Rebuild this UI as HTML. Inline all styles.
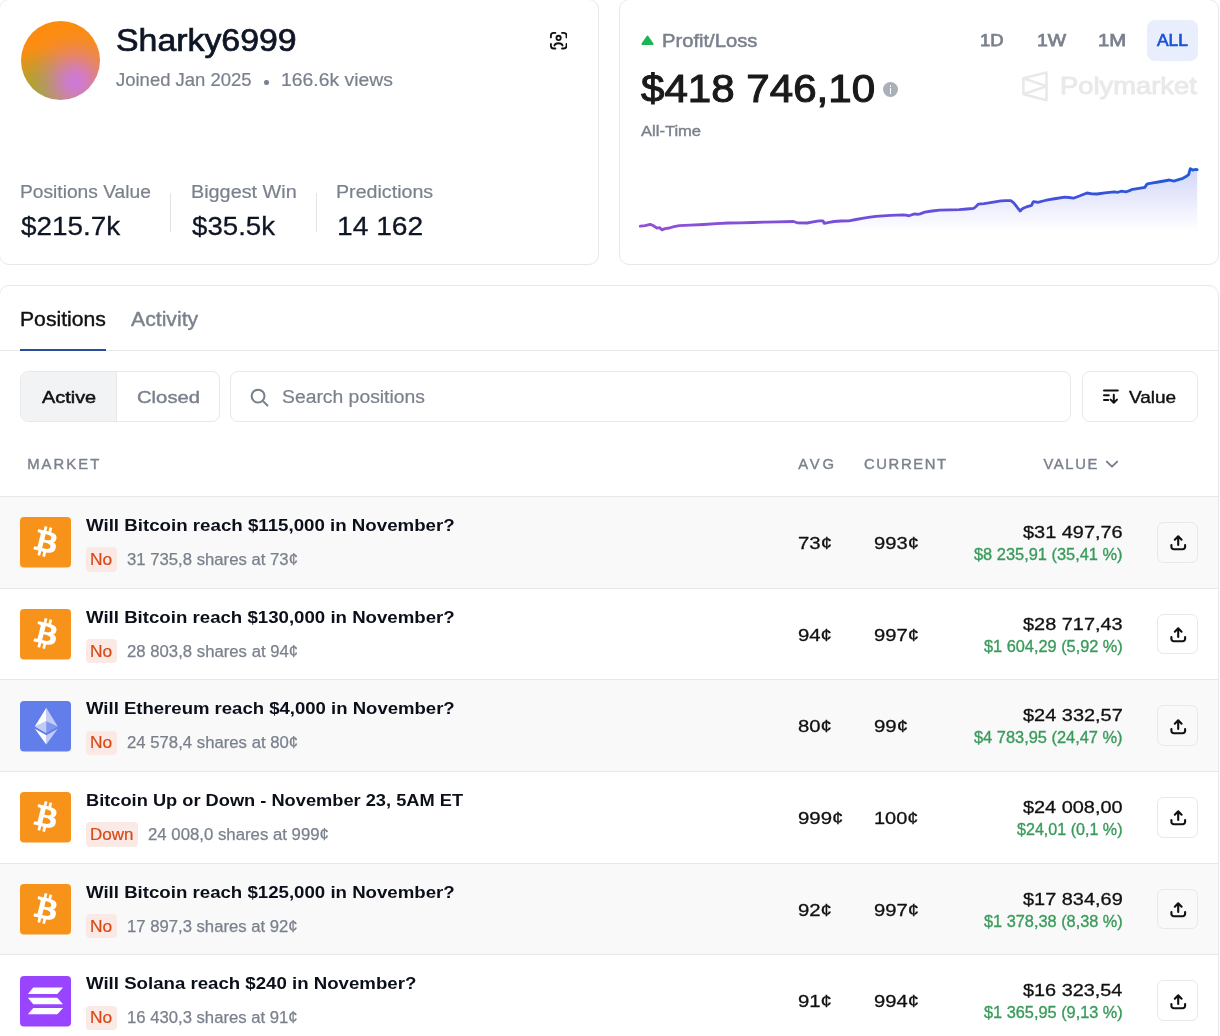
<!DOCTYPE html>
<html lang="en"><head><meta charset="utf-8"><title>Sharky6999 - Polymarket</title>
<style>
html,body{margin:0;padding:0;background:#fff}
body{width:1220px;height:1036px;position:relative;overflow:hidden;font-family:"Liberation Sans", sans-serif}
.a{position:absolute}
.t{white-space:pre;line-height:1;display:block}
.card{border:1px solid #e8e8e8;border-radius:10px;background:#fff;box-sizing:border-box}
.row{left:0;width:1218px;border-top:1px solid #e8e8e8;box-sizing:border-box}
.badge{height:24.4px;border-radius:4px;background:#fbe9e5}
.sbtn{width:40.4px;height:40.7px;box-sizing:border-box;border:1px solid #e8e8e8;border-radius:6.5px}
</style></head><body>
<div class="a card" style="left:-1px;top:-1px;width:600px;height:266px"></div>
<div class="a card" style="left:619px;top:-1px;width:600px;height:266px"></div>
<div class="a card" style="left:-1px;top:285px;width:1220px;height:800px"></div>
<div class="a" style="left:21px;top:20.8px;width:79px;height:79px;border-radius:50%;background:radial-gradient(circle at 69% 77%,#cd78de 0%,rgba(205,120,222,.85) 12%,rgba(207,122,200,.38) 36%,rgba(214,126,160,.12) 52%,rgba(214,126,160,0) 66%),radial-gradient(circle at 27% 92%,#9fab28 0%,rgba(160,170,40,.75) 20%,rgba(170,160,44,0) 50%),linear-gradient(180deg,#fc8c0e 0%,#fa8d14 50%,#f08d2c 100%)"></div>
<svg class="a" style="left:549.5px;top:32.3px" width="17.4" height="17.4" viewBox="0 0 17.4 17.4" fill="none" stroke="#111" stroke-width="1.8" stroke-linecap="round" stroke-linejoin="round"><path d="M.9 5.4V3.6A2.7 2.7 0 0 1 3.6.9h1.8M12 .9h1.8a2.7 2.7 0 0 1 2.7 2.7v1.8M16.5 12v1.8a2.7 2.7 0 0 1-2.7 2.7H12M5.4 16.5H3.6a2.7 2.7 0 0 1-2.7-2.7V12"/><circle cx="8.6" cy="5.9" r="2.15"/><path d="M4.4 13.6C5.2 10.5 11.8 10.5 12.6 13.6"/></svg>
<div class="a" style="left:264.4px;top:80.2px;width:4.6px;height:4.6px;border-radius:50%;background:#77808d"></div>
<div class="a" style="left:170px;top:192.5px;width:1px;height:39px;background:#e3e3e3"></div>
<div class="a" style="left:315.5px;top:192.5px;width:1px;height:39px;background:#e3e3e3"></div>
<svg class="a" style="left:641.2px;top:35.2px" width="13" height="11" viewBox="0 0 13 11"><path d="M6.5 1.6 11.6 9H1.4z" fill="#1cb555" stroke="#1cb555" stroke-width="2" stroke-linejoin="round"/></svg>
<div class="a" style="left:883px;top:82px;width:15px;height:15px;border-radius:50%;background:#a9b0b8"></div>
<div class="a" style="left:889.7px;top:85px;width:1.8px;height:1.8px;background:#fff;border-radius:50%"></div>
<div class="a" style="left:889.7px;top:88.2px;width:1.8px;height:5.5px;background:#fff"></div>
<div class="a" style="left:1147px;top:20px;width:51px;height:41px;border-radius:8px;background:#e8eefc"></div>
<svg class="a" style="left:1019px;top:69px" width="32" height="35" viewBox="0 0 32 35" fill="none" stroke="#e9e9e9" stroke-width="2.6" stroke-linejoin="round"><path d="M4.4 9.3 27.5 3.4V31.2L4.4 25.3zM4.4 9.3l23.1 8L4.4 25.3"/></svg>
<svg class="a" style="left:0;top:0" width="1220" height="270" viewBox="0 0 1220 270"><defs>
<linearGradient id="lg" x1="640" y1="0" x2="1197" y2="0" gradientUnits="userSpaceOnUse"><stop offset="0" stop-color="#9150d6"/><stop offset=".5" stop-color="#6a4fd8"/><stop offset=".8" stop-color="#3a52d8"/><stop offset="1" stop-color="#1f5bd8"/></linearGradient>
<linearGradient id="ag" x1="0" y1="168" x2="0" y2="231" gradientUnits="userSpaceOnUse"><stop offset="0" stop-color="#4f5fe6" stop-opacity=".26"/><stop offset="1" stop-color="#4f5fe6" stop-opacity="0"/></linearGradient></defs>
<path d="M640.3 226.2 L645.0 225.6 L650.2 224.3 L653.0 225.5 L657.0 228.2 L659.5 227.6 L662.0 229.9 L665.0 228.6 L669.3 228.0 L674.0 226.6 L679.2 225.7 L690.0 225.1 L703.8 224.5 L716.0 223.7 L728.4 223.0 L740.0 222.8 L753.0 222.5 L765.0 222.1 L777.5 221.8 L793.5 221.5 L797.2 222.8 L807.0 223.0 L813.0 221.9 L819.3 220.8 L823.0 220.8 L824.2 223.3 L829.0 222.3 L834.0 221.5 L841.0 221.0 L848.8 220.8 L856.0 219.5 L863.6 218.1 L870.0 217.2 L875.9 216.4 L883.0 215.8 L890.6 215.4 L897.0 215.1 L902.9 214.9 L906.0 215.2 L909.0 215.8 L912.0 214.7 L915.2 213.9 L917.4 214.4 L920.1 213.8 L924.8 212.2 L932.0 211.0 L939.5 210.2 L950.0 209.9 L959.2 209.7 L967.0 209.0 L973.9 208.3 L976.0 206.5 L978.4 204.1 L984.0 203.6 L988.7 202.9 L995.0 201.8 L1001.0 200.9 L1006.0 200.6 L1010.8 200.6 L1013.5 202.6 L1015.7 205.3 L1018.0 208.3 L1020.2 211.0 L1022.0 209.0 L1024.3 207.8 L1028.0 206.4 L1031.7 205.3 L1032.6 203.0 L1033.4 201.6 L1035.5 201.8 L1037.9 202.4 L1043.0 201.0 L1047.7 199.9 L1056.0 198.5 L1064.9 197.2 L1069.0 197.5 L1073.5 198.2 L1080.0 195.8 L1087.0 193.0 L1092.0 193.8 L1096.9 194.0 L1105.0 192.8 L1114.1 191.8 L1118.0 192.3 L1121.0 191.2 L1126.4 191.8 L1129.5 190.6 L1132.5 189.3 L1139.0 188.3 L1144.8 187.4 L1146.0 185.5 L1147.3 183.9 L1153.0 182.9 L1158.3 182.0 L1164.0 181.0 L1169.4 180.0 L1172.0 180.7 L1174.3 181.0 L1178.5 179.6 L1182.9 178.3 L1186.0 176.6 L1188.6 174.6 L1189.6 171.0 L1190.3 168.7 L1191.6 169.3 L1192.8 170.2 L1195.0 169.5 L1197.2 169.7 L1197.2 232 L640.3 232 Z" fill="url(#ag)"/><path d="M640.3 226.2 L645.0 225.6 L650.2 224.3 L653.0 225.5 L657.0 228.2 L659.5 227.6 L662.0 229.9 L665.0 228.6 L669.3 228.0 L674.0 226.6 L679.2 225.7 L690.0 225.1 L703.8 224.5 L716.0 223.7 L728.4 223.0 L740.0 222.8 L753.0 222.5 L765.0 222.1 L777.5 221.8 L793.5 221.5 L797.2 222.8 L807.0 223.0 L813.0 221.9 L819.3 220.8 L823.0 220.8 L824.2 223.3 L829.0 222.3 L834.0 221.5 L841.0 221.0 L848.8 220.8 L856.0 219.5 L863.6 218.1 L870.0 217.2 L875.9 216.4 L883.0 215.8 L890.6 215.4 L897.0 215.1 L902.9 214.9 L906.0 215.2 L909.0 215.8 L912.0 214.7 L915.2 213.9 L917.4 214.4 L920.1 213.8 L924.8 212.2 L932.0 211.0 L939.5 210.2 L950.0 209.9 L959.2 209.7 L967.0 209.0 L973.9 208.3 L976.0 206.5 L978.4 204.1 L984.0 203.6 L988.7 202.9 L995.0 201.8 L1001.0 200.9 L1006.0 200.6 L1010.8 200.6 L1013.5 202.6 L1015.7 205.3 L1018.0 208.3 L1020.2 211.0 L1022.0 209.0 L1024.3 207.8 L1028.0 206.4 L1031.7 205.3 L1032.6 203.0 L1033.4 201.6 L1035.5 201.8 L1037.9 202.4 L1043.0 201.0 L1047.7 199.9 L1056.0 198.5 L1064.9 197.2 L1069.0 197.5 L1073.5 198.2 L1080.0 195.8 L1087.0 193.0 L1092.0 193.8 L1096.9 194.0 L1105.0 192.8 L1114.1 191.8 L1118.0 192.3 L1121.0 191.2 L1126.4 191.8 L1129.5 190.6 L1132.5 189.3 L1139.0 188.3 L1144.8 187.4 L1146.0 185.5 L1147.3 183.9 L1153.0 182.9 L1158.3 182.0 L1164.0 181.0 L1169.4 180.0 L1172.0 180.7 L1174.3 181.0 L1178.5 179.6 L1182.9 178.3 L1186.0 176.6 L1188.6 174.6 L1189.6 171.0 L1190.3 168.7 L1191.6 169.3 L1192.8 170.2 L1195.0 169.5 L1197.2 169.7" fill="none" stroke="url(#lg)" stroke-width="2.8" stroke-linejoin="round" stroke-linecap="round"/></svg>
<div class="a" style="left:0;top:350px;width:1218px;height:1px;background:#e8e8e8"></div>
<div class="a" style="left:20px;top:348.8px;width:85.5px;height:2.2px;background:#2a4d9b"></div>
<div class="a" style="left:20px;top:371px;width:199.5px;height:50.5px;box-sizing:border-box;border:1px solid #e8e8e8;border-radius:8px;overflow:hidden"><div style="width:95px;height:100%;background:#f1f3f5;border-right:1px solid #e8e8e8"></div></div>
<div class="a" style="left:230px;top:371px;width:841px;height:50.5px;box-sizing:border-box;border:1px solid #e8e8e8;border-radius:8px"></div>
<svg class="a" style="left:247.5px;top:385.7px" width="22" height="22" viewBox="0 0 24 24" fill="none" stroke="#77808d" stroke-width="2.2" stroke-linecap="round"><circle cx="11" cy="11" r="7"/><path d="m16.2 16.2 5 5"/></svg>
<div class="a" style="left:1082px;top:371px;width:115.5px;height:50.5px;box-sizing:border-box;border:1px solid #e8e8e8;border-radius:8px"></div>
<svg class="a" style="left:1102px;top:388px" width="18" height="17" viewBox="0 0 18 17" fill="none" stroke="#111" stroke-width="2" stroke-linecap="round" stroke-linejoin="round"><path d="M2 2.4H15.8M2 7.3H6.8M2 12H6.2M11.8 6.8v7.8M8.6 11.6 11.8 14.8l3.2-3.2"/></svg>
<svg class="a" style="left:1105px;top:459px" width="14" height="10" viewBox="0 0 14 10" fill="none" stroke="#77808d" stroke-width="2" stroke-linecap="round" stroke-linejoin="round"><path d="M1.8 2.6 7 7.6l5.2-5"/></svg>
<div class="a row" style="top:496px;height:92px;background:#f9f9f9"></div>
<svg class="a" style="left:20px;top:517.00px" width="51" height="51" viewBox="0 0 51 51"><rect width="51" height="50.6" rx="4" fill="#f7931a"/><path transform="translate(1.40 0.55) scale(2.03)" fill="#fff" fill-rule="evenodd" d="M17.288 10.291c.24-1.59-.974-2.45-2.64-3.03l.54-2.153-1.315-.33-.525 2.107c-.345-.087-.705-.167-1.064-.25l.526-2.127-1.32-.33-.54 2.165c-.285-.067-.565-.132-.84-.2l-1.815-.45-.35 1.407s.975.225.955.236c.535.136.63.486.615.766l-1.477 5.92c-.075.166-.24.406-.614.314.015.02-.96-.24-.96-.24l-.66 1.51 1.71.426.93.242-.54 2.19 1.32.327.54-2.17c.36.1.705.19 1.05.273l-.51 2.154 1.32.33.545-2.19c2.24.427 3.93.257 4.64-1.774.57-1.637-.03-2.58-1.217-3.196.854-.193 1.5-.76 1.68-1.93h.01zM14.278 14.511c-.404 1.64-3.157.75-4.05.53l.72-2.9c.896.23 3.757.67 3.33 2.37zM14.688 10.271c-.37 1.49-2.662.735-3.405.55l.654-2.64c.744.18 3.137.524 2.75 2.084v.006z"/></svg>
<div class="a badge" style="left:86px;top:547.2px;width:30.7px"></div>
<div class="a sbtn" style="left:1157.3px;top:522.10px"></div><svg class="a" style="left:1157.5px;top:522.20px" width="40" height="40" viewBox="0 0 40 40"><path d="M20.2 23V14.6M16.8 17.7l3.4-3.4 3.4 3.4M13.4 23.1v1.8a2.4 2.4 0 0 0 2.4 2.4h8.9a2.4 2.4 0 0 0 2.4-2.4v-1.8" fill="none" stroke="#111" stroke-width="2.1" stroke-linecap="round" stroke-linejoin="round"/></svg>
<div class="a row" style="top:588px;height:91px;background:#ffffff"></div>
<svg class="a" style="left:20px;top:609.00px" width="51" height="51" viewBox="0 0 51 51"><rect width="51" height="50.6" rx="4" fill="#f7931a"/><path transform="translate(1.40 0.55) scale(2.03)" fill="#fff" fill-rule="evenodd" d="M17.288 10.291c.24-1.59-.974-2.45-2.64-3.03l.54-2.153-1.315-.33-.525 2.107c-.345-.087-.705-.167-1.064-.25l.526-2.127-1.32-.33-.54 2.165c-.285-.067-.565-.132-.84-.2l-1.815-.45-.35 1.407s.975.225.955.236c.535.136.63.486.615.766l-1.477 5.92c-.075.166-.24.406-.614.314.015.02-.96-.24-.96-.24l-.66 1.51 1.71.426.93.242-.54 2.19 1.32.327.54-2.17c.36.1.705.19 1.05.273l-.51 2.154 1.32.33.545-2.19c2.24.427 3.93.257 4.64-1.774.57-1.637-.03-2.58-1.217-3.196.854-.193 1.5-.76 1.68-1.93h.01zM14.278 14.511c-.404 1.64-3.157.75-4.05.53l.72-2.9c.896.23 3.757.67 3.33 2.37zM14.688 10.271c-.37 1.49-2.662.735-3.405.55l.654-2.64c.744.18 3.137.524 2.75 2.084v.006z"/></svg>
<div class="a badge" style="left:86px;top:638.9px;width:30.7px"></div>
<div class="a sbtn" style="left:1157.3px;top:613.77px"></div><svg class="a" style="left:1157.5px;top:613.87px" width="40" height="40" viewBox="0 0 40 40"><path d="M20.2 23V14.6M16.8 17.7l3.4-3.4 3.4 3.4M13.4 23.1v1.8a2.4 2.4 0 0 0 2.4 2.4h8.9a2.4 2.4 0 0 0 2.4-2.4v-1.8" fill="none" stroke="#111" stroke-width="2.1" stroke-linecap="round" stroke-linejoin="round"/></svg>
<div class="a row" style="top:679px;height:92px;background:#f9f9f9"></div>
<svg class="a" style="left:20px;top:701.00px" width="51" height="51" viewBox="0 0 51 51"><rect width="51" height="50.6" rx="4" fill="#627eea"/><g transform="translate(1.05 0.68) scale(1.53)" fill="#fff"><path fill-opacity=".602" d="M16.498 4v8.87l7.497 3.35z"/><path d="M16.498 4L9 16.22l7.498-3.35z"/><path fill-opacity=".602" d="M16.498 21.968v6.027L24 17.616z"/><path d="M16.498 27.995v-6.028L9 17.616z"/><path fill-opacity=".2" d="M16.498 20.573l7.497-4.353-7.497-3.348z"/><path fill-opacity=".602" d="M9 16.22l7.498 4.353v-7.701z"/></g></svg>
<div class="a badge" style="left:86px;top:730.5px;width:30.7px"></div>
<div class="a sbtn" style="left:1157.3px;top:705.43px"></div><svg class="a" style="left:1157.5px;top:705.53px" width="40" height="40" viewBox="0 0 40 40"><path d="M20.2 23V14.6M16.8 17.7l3.4-3.4 3.4 3.4M13.4 23.1v1.8a2.4 2.4 0 0 0 2.4 2.4h8.9a2.4 2.4 0 0 0 2.4-2.4v-1.8" fill="none" stroke="#111" stroke-width="2.1" stroke-linecap="round" stroke-linejoin="round"/></svg>
<div class="a row" style="top:771px;height:92px;background:#ffffff"></div>
<svg class="a" style="left:20px;top:792.00px" width="51" height="51" viewBox="0 0 51 51"><rect width="51" height="50.6" rx="4" fill="#f7931a"/><path transform="translate(1.40 0.55) scale(2.03)" fill="#fff" fill-rule="evenodd" d="M17.288 10.291c.24-1.59-.974-2.45-2.64-3.03l.54-2.153-1.315-.33-.525 2.107c-.345-.087-.705-.167-1.064-.25l.526-2.127-1.32-.33-.54 2.165c-.285-.067-.565-.132-.84-.2l-1.815-.45-.35 1.407s.975.225.955.236c.535.136.63.486.615.766l-1.477 5.92c-.075.166-.24.406-.614.314.015.02-.96-.24-.96-.24l-.66 1.51 1.71.426.93.242-.54 2.19 1.32.327.54-2.17c.36.1.705.19 1.05.273l-.51 2.154 1.32.33.545-2.19c2.24.427 3.93.257 4.64-1.774.57-1.637-.03-2.58-1.217-3.196.854-.193 1.5-.76 1.68-1.93h.01zM14.278 14.511c-.404 1.64-3.157.75-4.05.53l.72-2.9c.896.23 3.757.67 3.33 2.37zM14.688 10.271c-.37 1.49-2.662.735-3.405.55l.654-2.64c.744.18 3.137.524 2.75 2.084v.006z"/></svg>
<div class="a badge" style="left:86px;top:822.2px;width:52px"></div>
<div class="a sbtn" style="left:1157.3px;top:797.10px"></div><svg class="a" style="left:1157.5px;top:797.20px" width="40" height="40" viewBox="0 0 40 40"><path d="M20.2 23V14.6M16.8 17.7l3.4-3.4 3.4 3.4M13.4 23.1v1.8a2.4 2.4 0 0 0 2.4 2.4h8.9a2.4 2.4 0 0 0 2.4-2.4v-1.8" fill="none" stroke="#111" stroke-width="2.1" stroke-linecap="round" stroke-linejoin="round"/></svg>
<div class="a row" style="top:863px;height:91px;background:#f9f9f9"></div>
<svg class="a" style="left:20px;top:884.00px" width="51" height="51" viewBox="0 0 51 51"><rect width="51" height="50.6" rx="4" fill="#f7931a"/><path transform="translate(1.40 0.55) scale(2.03)" fill="#fff" fill-rule="evenodd" d="M17.288 10.291c.24-1.59-.974-2.45-2.64-3.03l.54-2.153-1.315-.33-.525 2.107c-.345-.087-.705-.167-1.064-.25l.526-2.127-1.32-.33-.54 2.165c-.285-.067-.565-.132-.84-.2l-1.815-.45-.35 1.407s.975.225.955.236c.535.136.63.486.615.766l-1.477 5.92c-.075.166-.24.406-.614.314.015.02-.96-.24-.96-.24l-.66 1.51 1.71.426.93.242-.54 2.19 1.32.327.54-2.17c.36.1.705.19 1.05.273l-.51 2.154 1.32.33.545-2.19c2.24.427 3.93.257 4.64-1.774.57-1.637-.03-2.58-1.217-3.196.854-.193 1.5-.76 1.68-1.93h.01zM14.278 14.511c-.404 1.64-3.157.75-4.05.53l.72-2.9c.896.23 3.757.67 3.33 2.37zM14.688 10.271c-.37 1.49-2.662.735-3.405.55l.654-2.64c.744.18 3.137.524 2.75 2.084v.006z"/></svg>
<div class="a badge" style="left:86px;top:913.9px;width:30.7px"></div>
<div class="a sbtn" style="left:1157.3px;top:888.77px"></div><svg class="a" style="left:1157.5px;top:888.87px" width="40" height="40" viewBox="0 0 40 40"><path d="M20.2 23V14.6M16.8 17.7l3.4-3.4 3.4 3.4M13.4 23.1v1.8a2.4 2.4 0 0 0 2.4 2.4h8.9a2.4 2.4 0 0 0 2.4-2.4v-1.8" fill="none" stroke="#111" stroke-width="2.1" stroke-linecap="round" stroke-linejoin="round"/></svg>
<div class="a row" style="top:954px;height:92px;background:#ffffff"></div>
<svg class="a" style="left:20px;top:976.00px" width="51" height="51" viewBox="0 0 51 51"><rect width="51" height="50.6" rx="4" fill="#9945ff"/><g fill="#fff"><path d="M13.3 11.6H43L37.3 18H7.9z"/><path d="M7.9 21.8H37.3L43 28.2H13.3z"/><path d="M13.3 31.9H43L37.3 38.3H7.9z"/></g></svg>
<div class="a badge" style="left:86px;top:1005.5px;width:30.7px"></div>
<div class="a sbtn" style="left:1157.3px;top:980.43px"></div><svg class="a" style="left:1157.5px;top:980.53px" width="40" height="40" viewBox="0 0 40 40"><path d="M20.2 23V14.6M16.8 17.7l3.4-3.4 3.4 3.4M13.4 23.1v1.8a2.4 2.4 0 0 0 2.4 2.4h8.9a2.4 2.4 0 0 0 2.4-2.4v-1.8" fill="none" stroke="#111" stroke-width="2.1" stroke-linecap="round" stroke-linejoin="round"/></svg>
<span class="a t" style="top:23px;line-height:35px;font-size:31px;color:#0e1525;-webkit-text-stroke:0.7px #0e1525;left:115.74px;transform:scaleX(1.0915);transform-origin:0 0;">Sharky6999</span>
<span class="a t" style="top:70px;line-height:20px;font-size:18px;color:#7a818d;-webkit-text-stroke:0.2px #7a818d;left:116.29px;transform:scaleX(1.0265);transform-origin:0 0;">Joined Jan 2025</span>
<span class="a t" style="top:70px;line-height:20px;font-size:18px;color:#7a818d;-webkit-text-stroke:0.2px #7a818d;left:280.60px;transform:scaleX(1.0765);transform-origin:0 0;">166.6k views</span>
<span class="a t" style="top:182px;line-height:20px;font-size:18px;color:#7a818d;-webkit-text-stroke:0.2px #7a818d;left:19.71px;transform:scaleX(1.0662);transform-origin:0 0;">Positions Value</span>
<span class="a t" style="top:211px;line-height:30px;font-size:26px;color:#0e1525;-webkit-text-stroke:0.3px #0e1525;left:21.02px;transform:scaleX(1.0724);transform-origin:0 0;">$215.7k</span>
<span class="a t" style="top:182px;line-height:20px;font-size:18px;color:#7a818d;-webkit-text-stroke:0.2px #7a818d;left:190.76px;transform:scaleX(1.1001);transform-origin:0 0;">Biggest Win</span>
<span class="a t" style="top:211px;line-height:30px;font-size:26px;color:#0e1525;-webkit-text-stroke:0.3px #0e1525;left:192.12px;transform:scaleX(1.0634);transform-origin:0 0;">$35.5k</span>
<span class="a t" style="top:182px;line-height:20px;font-size:18px;color:#7a818d;-webkit-text-stroke:0.2px #7a818d;left:335.97px;transform:scaleX(1.0912);transform-origin:0 0;">Predictions</span>
<span class="a t" style="top:211px;line-height:30px;font-size:26px;color:#0e1525;-webkit-text-stroke:0.3px #0e1525;left:337.37px;transform:scaleX(1.0843);transform-origin:0 0;">14 162</span>
<span class="a t" style="top:31px;line-height:20px;font-size:18px;color:#7a818d;-webkit-text-stroke:0.5px #7a818d;left:662.34px;transform:scaleX(1.1217);transform-origin:0 0;">Profit/Loss</span>
<span class="a t" style="top:66px;line-height:44px;font-size:39.5px;color:#1a1a1a;-webkit-text-stroke:1.1px #1a1a1a;left:640.99px;transform:scaleX(1.0658);transform-origin:0 0;">$418 746,10</span>
<span class="a t" style="top:123px;line-height:16px;font-size:14.7px;color:#7a818d;-webkit-text-stroke:0.4px #7a818d;left:641.13px;transform:scaleX(1.1265);transform-origin:0 0;">All-Time</span>
<span class="a t" style="top:30px;line-height:20px;font-size:17.2px;color:#7a818d;-webkit-text-stroke:0.75px #7a818d;left:979.59px;transform:scaleX(1.0737);transform-origin:0 0;">1D</span>
<span class="a t" style="top:30px;line-height:20px;font-size:17.2px;color:#7a818d;-webkit-text-stroke:0.75px #7a818d;left:1036.62px;transform:scaleX(1.1306);transform-origin:0 0;">1W</span>
<span class="a t" style="top:30px;line-height:20px;font-size:17.2px;color:#7a818d;-webkit-text-stroke:0.75px #7a818d;left:1098.46px;transform:scaleX(1.1770);transform-origin:0 0;">1M</span>
<span class="a t" style="top:30px;line-height:20px;font-size:17.2px;color:#1c54d6;-webkit-text-stroke:0.7px #1c54d6;left:1157.45px;transform:scaleX(1.0121);transform-origin:0 0;">ALL</span>
<span class="a t" style="top:72px;line-height:27px;font-size:24px;color:#e9e9e9;-webkit-text-stroke:0.9px #e9e9e9;left:1060.12px;transform:scaleX(1.1390);transform-origin:0 0;">Polymarket</span>
<span class="a t" style="top:308px;line-height:22px;font-size:20px;color:#111111;-webkit-text-stroke:0.4px #111111;left:19.92px;transform:scaleX(1.0583);transform-origin:0 0;">Positions</span>
<span class="a t" style="top:308px;line-height:22px;font-size:20px;color:#7a818d;-webkit-text-stroke:0.4px #7a818d;left:130.92px;transform:scaleX(1.0604);transform-origin:0 0;">Activity</span>
<span class="a t" style="top:388px;line-height:18px;font-size:16.5px;color:#111111;-webkit-text-stroke:0.5px #111111;left:41.96px;transform:scaleX(1.2045);transform-origin:0 0;">Active</span>
<span class="a t" style="top:388px;line-height:18px;font-size:16.5px;color:#7a818d;-webkit-text-stroke:0.4px #7a818d;left:136.83px;transform:scaleX(1.2269);transform-origin:0 0;">Closed</span>
<span class="a t" style="top:387px;line-height:20px;font-size:18px;color:#7a818d;-webkit-text-stroke:0.2px #7a818d;left:282.20px;transform:scaleX(1.0740);transform-origin:0 0;">Search positions</span>
<span class="a t" style="top:388px;line-height:18px;font-size:16.4px;color:#111111;-webkit-text-stroke:0.4px #111111;left:1129.28px;transform:scaleX(1.1573);transform-origin:0 0;">Value</span>
<span class="a t" style="top:456px;line-height:16px;font-size:14.8px;color:#7a818d;letter-spacing:2.115px;-webkit-text-stroke:0.4px #7a818d;left:27.15px;transform:scaleX(1.0000);transform-origin:0 0;">MARKET</span>
<span class="a t" style="top:456px;line-height:16px;font-size:14.8px;color:#7a818d;letter-spacing:2.832px;-webkit-text-stroke:0.4px #7a818d;left:798.23px;transform:scaleX(1.0000);transform-origin:0 0;">AVG</span>
<span class="a t" style="top:456px;line-height:16px;font-size:14.8px;color:#7a818d;letter-spacing:1.606px;-webkit-text-stroke:0.4px #7a818d;left:864.01px;transform:scaleX(1.0000);transform-origin:0 0;">CURRENT</span>
<span class="a t" style="top:456px;line-height:16px;font-size:14.8px;color:#7a818d;letter-spacing:1.664px;-webkit-text-stroke:0.4px #7a818d;left:1043.39px;transform:scaleX(1.0000);transform-origin:0 0;">VALUE</span>
<span class="a t" style="top:516px;line-height:19px;font-size:17px;color:#0b0f1a;font-weight:700;left:86.18px;transform:scaleX(1.0998);transform-origin:0 0;">Will Bitcoin reach $115,000 in November?</span>
<span class="a t" style="top:551px;line-height:17px;font-size:15.8px;color:#d64a18;-webkit-text-stroke:0.2px #d64a18;left:89.96px;transform:scaleX(1.0991);transform-origin:0 0;">No</span>
<span class="a t" style="top:551px;line-height:17px;font-size:15.8px;color:#7a818d;-webkit-text-stroke:0.25px #7a818d;left:126.96px;transform:scaleX(1.0577);transform-origin:0 0;">31 735,8 shares at 73¢</span>
<span class="a t" style="top:533px;line-height:20px;font-size:17.2px;color:#111111;-webkit-text-stroke:0.3px #111111;left:798.07px;transform:scaleX(1.1860);transform-origin:0 0;">73¢</span>
<span class="a t" style="top:533px;line-height:20px;font-size:17.2px;color:#111111;-webkit-text-stroke:0.3px #111111;left:873.57px;transform:scaleX(1.1743);transform-origin:0 0;">993¢</span>
<span class="a t" style="top:522px;line-height:20px;font-size:17.3px;color:#111111;-webkit-text-stroke:0.3px #111111;left:1022.61px;transform:scaleX(1.1521);transform-origin:0 0;">$31 497,76</span>
<span class="a t" style="top:546px;line-height:17px;font-size:16px;color:#3a9b5c;-webkit-text-stroke:0.35px #3a9b5c;left:974.16px;transform:scaleX(1.0243);transform-origin:0 0;">$8 235,91 (35,41 %)</span>
<span class="a t" style="top:608px;line-height:19px;font-size:17px;color:#0b0f1a;font-weight:700;left:86.18px;transform:scaleX(1.0967);transform-origin:0 0;">Will Bitcoin reach $130,000 in November?</span>
<span class="a t" style="top:643px;line-height:17px;font-size:15.8px;color:#d64a18;-webkit-text-stroke:0.2px #d64a18;left:89.96px;transform:scaleX(1.0991);transform-origin:0 0;">No</span>
<span class="a t" style="top:643px;line-height:17px;font-size:15.8px;color:#7a818d;-webkit-text-stroke:0.25px #7a818d;left:126.76px;transform:scaleX(1.0590);transform-origin:0 0;">28 803,8 shares at 94¢</span>
<span class="a t" style="top:625px;line-height:20px;font-size:17.2px;color:#111111;-webkit-text-stroke:0.3px #111111;left:798.17px;transform:scaleX(1.1827);transform-origin:0 0;">94¢</span>
<span class="a t" style="top:625px;line-height:20px;font-size:17.2px;color:#111111;-webkit-text-stroke:0.3px #111111;left:873.57px;transform:scaleX(1.1743);transform-origin:0 0;">997¢</span>
<span class="a t" style="top:614px;line-height:20px;font-size:17.3px;color:#111111;-webkit-text-stroke:0.3px #111111;left:1022.61px;transform:scaleX(1.1521);transform-origin:0 0;">$28 717,43</span>
<span class="a t" style="top:638px;line-height:17px;font-size:16px;color:#3a9b5c;-webkit-text-stroke:0.35px #3a9b5c;left:983.86px;transform:scaleX(1.0199);transform-origin:0 0;">$1 604,29 (5,92 %)</span>
<span class="a t" style="top:699px;line-height:19px;font-size:17px;color:#0b0f1a;font-weight:700;left:86.18px;transform:scaleX(1.0905);transform-origin:0 0;">Will Ethereum reach $4,000 in November?</span>
<span class="a t" style="top:734px;line-height:17px;font-size:15.8px;color:#d64a18;-webkit-text-stroke:0.2px #d64a18;left:89.96px;transform:scaleX(1.0991);transform-origin:0 0;">No</span>
<span class="a t" style="top:734px;line-height:17px;font-size:15.8px;color:#7a818d;-webkit-text-stroke:0.25px #7a818d;left:126.76px;transform:scaleX(1.0590);transform-origin:0 0;">24 578,4 shares at 80¢</span>
<span class="a t" style="top:716px;line-height:20px;font-size:17.2px;color:#111111;-webkit-text-stroke:0.3px #111111;left:798.24px;transform:scaleX(1.1801);transform-origin:0 0;">80¢</span>
<span class="a t" style="top:716px;line-height:20px;font-size:17.2px;color:#111111;-webkit-text-stroke:0.3px #111111;left:873.56px;transform:scaleX(1.1864);transform-origin:0 0;">99¢</span>
<span class="a t" style="top:705px;line-height:20px;font-size:17.3px;color:#111111;-webkit-text-stroke:0.3px #111111;left:1022.61px;transform:scaleX(1.1536);transform-origin:0 0;">$24 332,57</span>
<span class="a t" style="top:729px;line-height:17px;font-size:16px;color:#3a9b5c;-webkit-text-stroke:0.35px #3a9b5c;left:974.16px;transform:scaleX(1.0243);transform-origin:0 0;">$4 783,95 (24,47 %)</span>
<span class="a t" style="top:791px;line-height:19px;font-size:17px;color:#0b0f1a;font-weight:700;left:86.18px;transform:scaleX(1.0730);transform-origin:0 0;">Bitcoin Up or Down - November 23, 5AM ET</span>
<span class="a t" style="top:826px;line-height:17px;font-size:15.8px;color:#d64a18;-webkit-text-stroke:0.2px #d64a18;left:90.19px;transform:scaleX(1.0729);transform-origin:0 0;">Down</span>
<span class="a t" style="top:826px;line-height:17px;font-size:15.8px;color:#7a818d;-webkit-text-stroke:0.25px #7a818d;left:148.16px;transform:scaleX(1.0619);transform-origin:0 0;">24 008,0 shares at 999¢</span>
<span class="a t" style="top:808px;line-height:20px;font-size:17.2px;color:#111111;-webkit-text-stroke:0.3px #111111;left:798.16px;transform:scaleX(1.1853);transform-origin:0 0;">999¢</span>
<span class="a t" style="top:808px;line-height:20px;font-size:17.2px;color:#111111;-webkit-text-stroke:0.3px #111111;left:874.10px;transform:scaleX(1.1602);transform-origin:0 0;">100¢</span>
<span class="a t" style="top:797px;line-height:20px;font-size:17.3px;color:#111111;-webkit-text-stroke:0.3px #111111;left:1022.61px;transform:scaleX(1.1510);transform-origin:0 0;">$24 008,00</span>
<span class="a t" style="top:821px;line-height:17px;font-size:16px;color:#3a9b5c;-webkit-text-stroke:0.35px #3a9b5c;left:1017.17px;transform:scaleX(1.0051);transform-origin:0 0;">$24,01 (0,1 %)</span>
<span class="a t" style="top:883px;line-height:19px;font-size:17px;color:#0b0f1a;font-weight:700;left:86.18px;transform:scaleX(1.0967);transform-origin:0 0;">Will Bitcoin reach $125,000 in November?</span>
<span class="a t" style="top:918px;line-height:17px;font-size:15.8px;color:#d64a18;-webkit-text-stroke:0.2px #d64a18;left:89.96px;transform:scaleX(1.0991);transform-origin:0 0;">No</span>
<span class="a t" style="top:918px;line-height:17px;font-size:15.8px;color:#7a818d;-webkit-text-stroke:0.25px #7a818d;left:127.33px;transform:scaleX(1.0554);transform-origin:0 0;">17 897,3 shares at 92¢</span>
<span class="a t" style="top:900px;line-height:20px;font-size:17.2px;color:#111111;-webkit-text-stroke:0.3px #111111;left:798.17px;transform:scaleX(1.1827);transform-origin:0 0;">92¢</span>
<span class="a t" style="top:900px;line-height:20px;font-size:17.2px;color:#111111;-webkit-text-stroke:0.3px #111111;left:873.57px;transform:scaleX(1.1743);transform-origin:0 0;">997¢</span>
<span class="a t" style="top:889px;line-height:20px;font-size:17.3px;color:#111111;-webkit-text-stroke:0.3px #111111;left:1022.61px;transform:scaleX(1.1529);transform-origin:0 0;">$17 834,69</span>
<span class="a t" style="top:913px;line-height:17px;font-size:16px;color:#3a9b5c;-webkit-text-stroke:0.35px #3a9b5c;left:983.86px;transform:scaleX(1.0199);transform-origin:0 0;">$1 378,38 (8,38 %)</span>
<span class="a t" style="top:974px;line-height:19px;font-size:17px;color:#0b0f1a;font-weight:700;left:86.18px;transform:scaleX(1.0965);transform-origin:0 0;">Will Solana reach $240 in November?</span>
<span class="a t" style="top:1009px;line-height:17px;font-size:15.8px;color:#d64a18;-webkit-text-stroke:0.2px #d64a18;left:89.96px;transform:scaleX(1.0991);transform-origin:0 0;">No</span>
<span class="a t" style="top:1009px;line-height:17px;font-size:15.8px;color:#7a818d;-webkit-text-stroke:0.25px #7a818d;left:127.33px;transform:scaleX(1.0554);transform-origin:0 0;">16 430,3 shares at 91¢</span>
<span class="a t" style="top:991px;line-height:20px;font-size:17.2px;color:#111111;-webkit-text-stroke:0.3px #111111;left:798.17px;transform:scaleX(1.1827);transform-origin:0 0;">91¢</span>
<span class="a t" style="top:991px;line-height:20px;font-size:17.2px;color:#111111;-webkit-text-stroke:0.3px #111111;left:873.57px;transform:scaleX(1.1743);transform-origin:0 0;">994¢</span>
<span class="a t" style="top:980px;line-height:20px;font-size:17.3px;color:#111111;-webkit-text-stroke:0.3px #111111;left:1022.61px;transform:scaleX(1.1487);transform-origin:0 0;">$16 323,54</span>
<span class="a t" style="top:1004px;line-height:17px;font-size:16px;color:#3a9b5c;-webkit-text-stroke:0.35px #3a9b5c;left:983.86px;transform:scaleX(1.0199);transform-origin:0 0;">$1 365,95 (9,13 %)</span>
</body></html>
